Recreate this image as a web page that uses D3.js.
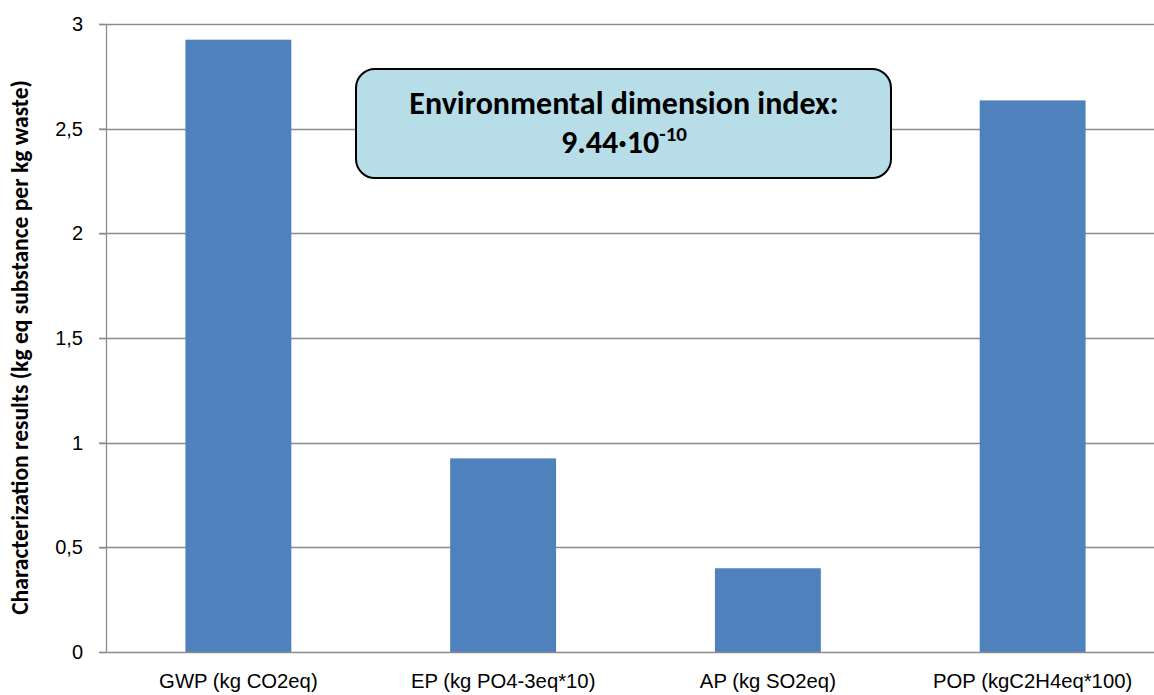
<!DOCTYPE html>
<html>
<head>
<meta charset="utf-8">
<script src="https://cdn.jsdelivr.net/npm/d3@7"></script>
<style>
  body { margin: 0; background: #fff; overflow: hidden; }
  svg { display: block; font-family: Calibri, Carlito, 'Open Sans', 'Liberation Sans', sans-serif; }
</style>
</head>
<body>
<div id="chart"></div>
<script>
const categories = ['GWP (kg CO2eq)', 'EP (kg PO4-3eq*10)', 'AP (kg SO2eq)', 'POP (kgC2H4eq*100)'];
const values = [2.925, 0.925, 0.40, 2.635];
const yTicks = [0, 0.5, 1, 1.5, 2, 2.5, 3];
const yTitle = 'Characterization results (kg eq substance per kg waste)';
const boxLine1 = 'Environmental dimension index:';
const boxBase = '9.44\u00b710';
const boxExp = '-10';

// shrink/grow a text's font so it spans the wanted length
function fitText(sel, target) {
    const size = parseFloat(sel.style('font-size'));
    const len = sel.node().getComputedTextLength();
    if (len > 0) sel.style('font-size', (size * target / len).toFixed(2) + 'px');
}

function createBarChart() {
    const W = 1154, H = 695;
    const margin = { top: 24, right: -11, bottom: 43, left: 106 };
    const width = W - margin.left - margin.right;
    const height = H - margin.top - margin.bottom;

    const svg = d3.select('#chart').append('svg')
        .attr('width', W)
        .attr('height', H);

    const g = svg.append('g')
        .attr('transform', `translate(${margin.left},${margin.top})`);

    const x = d3.scaleBand()
        .domain(categories)
        .range([0, width])
        .paddingInner(0.6)
        .paddingOuter(0.3);

    const y = d3.scaleLinear()
        .domain([0, 3])
        .range([height, 0]);

    // Gridlines
    g.append('g')
        .selectAll('line')
        .data(yTicks.filter(d => d > 0))
        .join('line')
        .attr('x1', -7)
        .attr('x2', width)
        .attr('y1', d => Math.round(y(d)) + 0.5)
        .attr('y2', d => Math.round(y(d)) + 0.5)
        .attr('stroke', '#8c8c8c')
        .attr('stroke-width', 1.3);

    // Bars
    g.selectAll('.bar')
        .data(values)
        .join('rect')
        .attr('class', 'bar')
        .attr('x', (d, i) => x(categories[i]))
        .attr('width', x.bandwidth())
        .attr('y', d => y(d))
        .attr('height', d => height - y(d))
        .attr('fill', '#4f81bd');

    // Y axis
    const yAxis = g.append('g')
        .call(d3.axisLeft(y)
            .tickValues(yTicks)
            .tickSize(7)
            .tickFormat(d => String(d).replace('.', ',')));
    yAxis.selectAll('line, path').attr('stroke', '#8c8c8c').attr('stroke-width', 1.3);
    yAxis.select('.domain').attr('d', `M0.5,0V${height}`);
    yAxis.selectAll('text')
        .attr('x', -23)
        .attr('fill', '#000')
        .style('font-size', '20px');

    // X axis
    const xAxis = g.append('g')
        .attr('transform', `translate(0,${height})`)
        .call(d3.axisBottom(x).tickSize(0).tickPadding(22));
    xAxis.select('.domain').attr('d', `M-7,0.5H${width}`).attr('stroke', '#8c8c8c').attr('stroke-width', 1.3);
    xAxis.selectAll('text')
        .attr('fill', '#000')
        .style('font-size', '20.3px');

    // Y axis title
    const title = svg.append('text')
        .attr('transform', 'rotate(-90)')
        .attr('x', -347.5)
        .attr('y', 28)
        .attr('text-anchor', 'middle')
        .style('font-size', '22px')
        .style('font-weight', 'bold')
        .text(yTitle);
    fitText(title, 535);

    // Annotation box
    const box = svg.append('g').attr('transform', 'translate(356,69)');
    box.append('rect')
        .attr('width', 535)
        .attr('height', 109)
        .attr('rx', 19)
        .attr('fill', '#b7dde8')
        .attr('stroke', '#000')
        .attr('stroke-width', 2);
    box.append('text')
        .attr('x', 268)
        .attr('y', 45)
        .attr('text-anchor', 'middle')
        .style('font-size', '32px')
        .style('font-weight', 'bold')
        .text(boxLine1);
    const t2 = box.append('text')
        .attr('x', 268)
        .attr('y', 84)
        .attr('text-anchor', 'middle')
        .style('font-size', '32px')
        .style('font-weight', 'bold');
    t2.append('tspan').text(boxBase);
    t2.append('tspan')
        .attr('dy', -12)
        .style('font-size', '21px')
        .text(boxExp);
}

createBarChart();
</script>
</body>
</html>
